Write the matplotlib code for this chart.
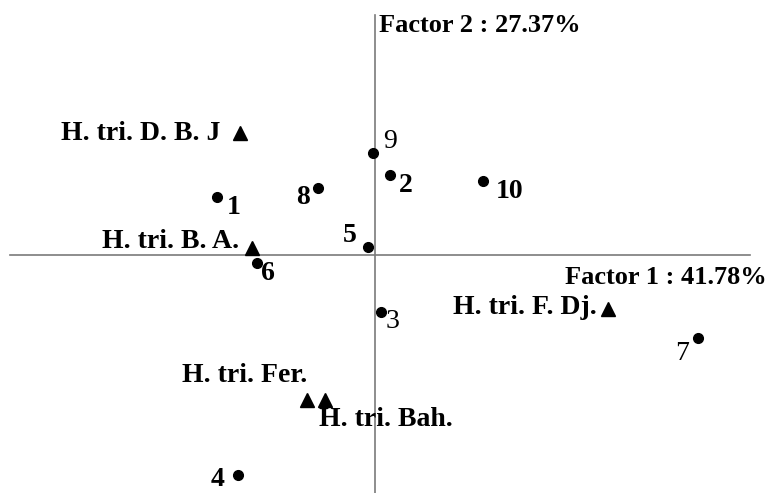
import matplotlib
matplotlib.use("Agg")
import matplotlib.pyplot as plt

# Factor scores (Factor 1 = x, Factor 2 = y), arbitrary units
point_ids = ["1", "2", "3", "4", "5", "6", "7", "8", "9", "10"]
point_f1 = [-1.58, 0.15, 0.06, -1.37, -0.07, -1.18, 3.23, -0.57, -0.02, 1.08]
point_f2 = [0.58, 0.80, -0.57, -2.20, 0.08, -0.08, -0.83, 0.67, 1.02, 0.74]

group_names = ["H. tri. D. B. J", "H. tri. B. A.", "H. tri. F. Dj.", "H. tri. Fer.", "H. tri. Bah."]
group_f1 = [-1.35, -1.23, 2.33, -0.68, -0.50]
group_f2 = [1.22, 0.07, -0.54, -1.45, -1.45]

axis_label_x = "Factor 1 : 41.78%"
axis_label_y = "Factor 2 : 27.37%"

# label placement (pixels offsets), weights
point_offsets = {"1": (17, -11), "2": (16, -10), "3": (11, -9), "4": (-20, -4), "5": (-18, 11),
                 "6": (11, -11), "7": (-16, -16), "8": (-15, -10), "9": (17, 11), "10": (27, -11)}
point_weight = {"3": "normal", "7": "normal", "9": "normal"}
group_place = [((-20, 0), "right"), ((-13, 7), "right"), ((-11, 2), "right"),
               ((0, 25), "right"), ((-6, -20), "left")]

plt.rcParams["font.family"] = ["Liberation Serif", "DejaVu Serif"]

fig = plt.figure(figsize=(7.69, 4.93), dpi=100)
ax = fig.add_axes([0, 0, 1, 1])
ax.set_xlim(-3.75, 3.94)
ax.set_ylim(-2.38, 2.55)
ax.axis("off")

axcol = "#7a7a7a"
ax.plot([-3.65, 3.75], [0, 0], color=axcol, lw=1.2, zorder=1)
ax.plot([0, 0], [-2.40, 2.40], color=axcol, lw=1.2, zorder=1)

ax.plot(point_f1, point_f2, "o", color="black", ms=7, ls="none", zorder=3)
ax.plot(group_f1, group_f2, "^", color="black", ms=10, ls="none", zorder=3)

for pid, x, y in zip(point_ids, point_f1, point_f2):
    dx, dy = point_offsets[pid]
    ax.annotate(pid, (x, y), xytext=(dx, dy), textcoords="offset pixels",
                ha="center", va="center", fontsize=20,
                fontweight=point_weight.get(pid, "bold"))

for name, x, y, ((dx, dy), ha) in zip(group_names, group_f1, group_f2, group_place):
    ax.annotate(name, (x, y), xytext=(dx, dy), textcoords="offset pixels",
                ha=ha, va="center", fontsize=20, fontweight="bold")

ax.annotate(axis_label_y, (0, 2.40), xytext=(4, -10), textcoords="offset pixels",
            ha="left", va="center", fontsize=19, fontweight="bold")
ax.annotate(axis_label_x, (3.75, 0), xytext=(17, -22), textcoords="offset pixels",
            ha="right", va="center", fontsize=19, fontweight="bold")

fig.savefig("out.png", dpi=100)
